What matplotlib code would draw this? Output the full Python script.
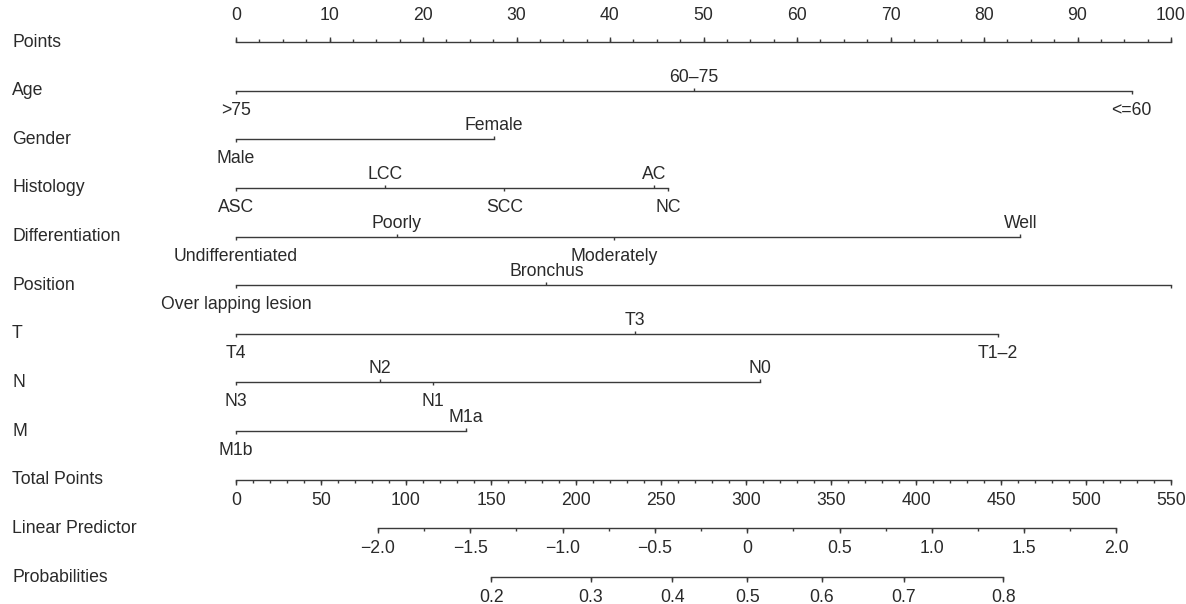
import numpy as np
import matplotlib
matplotlib.use("Agg")
import matplotlib.pyplot as plt

# nomogram rows: variable name, level labels, points for each level, label side (1 above, -1 below)
age_levels = [">75", "60–75", "<=60"]
age_points = [0, 49.0, 95.8]
age_side = [-1, 1, -1]

gender_levels = ["Male", "Female"]
gender_points = [0, 27.6]
gender_side = [-1, 1]

histology_levels = ["ASC", "LCC", "SCC", "AC", "NC"]
histology_points = [0, 15.9, 28.7, 44.7, 46.2]
histology_side = [-1, 1, -1, 1, -1]

diff_levels = ["Undifferentiated", "Poorly", "Moderately", "Well"]
diff_points = [0, 17.2, 40.4, 83.9]
diff_side = [-1, 1, -1, 1]

position_levels = ["Over lapping lesion", "Bronchus", ""]
position_points = [0, 33.2, 100]
position_side = [-1, 1, -1]

t_levels = ["T4", "T3", "T1–2"]
t_points = [0, 42.7, 81.5]
t_side = [-1, 1, -1]

n_levels = ["N3", "N2", "N1", "N0"]
n_points = [0, 15.4, 21.1, 56.0]
n_side = [-1, 1, -1, 1]

m_levels = ["M1b", "M1a"]
m_points = [0, 24.6]
m_side = [-1, 1]

# score scales
points_ticks = np.arange(0, 101, 10)
total_ticks = np.arange(0, 551, 50)
total_max = 550
lp_ticks = [-2.0, -1.5, -1.0, -0.5, 0, 0.5, 1.0, 1.5, 2.0]
lp_labels = ["−2.0", "−1.5", "−1.0", "−0.5", "0", "0.5", "1.0", "1.5", "2.0"]
lp_total_at_min = 83.5    # total points where LP = -2
lp_total_per_unit = 108.6  # total points per unit of LP
prob_ticks = [0.2, 0.3, 0.4, 0.5, 0.6, 0.7, 0.8]

rows = ["Points", "Age", "Gender", "Histology", "Differentiation", "Position",
        "T", "N", "M", "Total Points", "Linear Predictor", "Probabilities"]

variables = [
    (age_levels, age_points, age_side),
    (gender_levels, gender_points, gender_side),
    (histology_levels, histology_points, histology_side),
    (diff_levels, diff_points, diff_side),
    (position_levels, position_points, position_side),
    (t_levels, t_points, t_side),
    (n_levels, n_points, n_side),
    (m_levels, m_points, m_side),
]

plt.rcParams['font.family'] = ['Liberation Sans', 'DejaVu Sans']
FS = 12.7
LC = "#3a3a3a"
TC = "#2a2a2a"

fig = plt.figure(figsize=(11.86, 6.04), dpi=100)
ax = fig.add_axes([0, 0, 1, 1])
ax.set_xlim(-236 / 9.35, (1186 - 236) / 9.35)
row_px = 48.64
ax.set_ylim((604 - 42) / row_px, -42 / row_px)
ax.axis("off")

px = 1 / row_px  # one pixel in y data units
PT = 0.72        # points per pixel at 100 dpi


def tp_to_pts(tp):
    return np.asarray(tp, dtype=float) * 100 / total_max


def lp_to_pts(lp):
    return tp_to_pts(lp_total_at_min + (np.asarray(lp, dtype=float) + 2) * lp_total_per_unit)


def label(x, y, s, dy_px):
    ax.annotate(s, (x, y), xytext=(0, -dy_px * PT), textcoords="offset points",
                ha="center", va="baseline", fontsize=FS, color=TC)


def scale_axis(y, major, minor, labels, up):
    lo, hi = min(major), max(major)
    ax.plot([lo, hi], [y, y], color=LC, lw=1)
    sgn = -1 if up else 1
    ax.vlines(minor, y, y + sgn * 3 * px, color=LC, lw=1)
    ax.vlines(major, y, y + sgn * 5 * px, color=LC, lw=1)
    for x, s in zip(major, labels):
        label(x, y, s, -22 if up else 25)


# row names down the left side
for i, name in enumerate(rows):
    ax.text(12 / 1186, i, name, transform=ax.get_yaxis_transform(),
            fontsize=FS, color=TC, ha="left", va="center")

# Points scale
scale_axis(0, points_ticks, np.arange(0, 100.1, 2.5),
           [str(v) for v in points_ticks], up=True)

# variable rows
for r, (levels, pts, side) in enumerate(variables, start=1):
    ax.plot([min(pts), max(pts)], [r, r], color=LC, lw=1)
    for lev, p, s in zip(levels, pts, side):
        ax.vlines(p, r, r - s * 3 * px, color=LC, lw=1)
        label(p, r, lev, -9 if s > 0 else 24)

# Total points
scale_axis(9, tp_to_pts(total_ticks), tp_to_pts(np.arange(0, 551, 10)),
           [str(v) for v in total_ticks], up=False)

# Linear predictor
scale_axis(10, lp_to_pts(lp_ticks), lp_to_pts(np.arange(-2, 2.01, 0.25)),
           lp_labels, up=False)

# Probabilities
prob_lp = np.log(np.array(prob_ticks) / (1 - np.array(prob_ticks)))
scale_axis(11, lp_to_pts(prob_lp), lp_to_pts(prob_lp),
           [f"{p:.1f}" for p in prob_ticks], up=False)

fig.savefig("out.png", dpi=100, facecolor="white")
